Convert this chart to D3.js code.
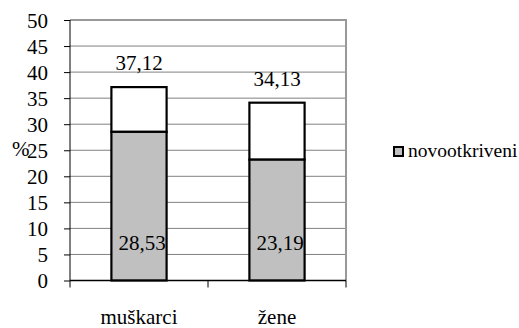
<!DOCTYPE html>
<html><head><meta charset="utf-8">
<script src="https://cdn.jsdelivr.net/npm/d3@7"></script>
</head><body style="margin:0;background:#fff"><svg id="c" width="519" height="328" style="display:block"></svg>
<script>
const categories = ["muškarci", "žene"];
const novootkriveni = [28.53, 23.19];
const ukupno = [37.12, 34.13];
const yTicks = [0, 5, 10, 15, 20, 25, 30, 35, 40, 45, 50];
const legendLabel = "novootkriveni";
const yLabel = "%";

const svg = d3.select("#c");
const L = 70, R = 346, T = 20, B = 280.5;
const x = d3.scaleBand().domain(categories).range([L, R]).paddingInner(0.6).paddingOuter(0.3);
const xb = d3.scaleBand().domain(categories).range([L, R]);
const y = d3.scaleLinear().domain([0, 50]).range([B, T]);
const fs = "21px";
const FF = "Liberation Serif";

// gridlines
svg.append("g").selectAll("line").data(yTicks.filter(d => d > 0 && d < 50)).join("line")
  .attr("x1", L).attr("x2", R).attr("y1", d => y(d)).attr("y2", d => y(d))
  .attr("stroke", "#808080").attr("stroke-width", 1);
// top & right border
svg.append("path").attr("d", `M${L},${y(50)}H${R}V${B}`).attr("fill", "none")
  .attr("stroke", "#999").attr("stroke-width", 2);

// bars: white total, gray part
const g = svg.append("g");
g.selectAll("rect.tot").data(categories).join("rect").attr("class", "tot")
  .attr("x", d => x(d)).attr("width", x.bandwidth())
  .attr("y", (d, i) => y(ukupno[i])).attr("height", (d, i) => y(novootkriveni[i]) - y(ukupno[i]))
  .attr("fill", "#fff").attr("stroke", "#000").attr("stroke-width", 2.2);
g.selectAll("rect.nov").data(categories).join("rect").attr("class", "nov")
  .attr("x", d => x(d)).attr("width", x.bandwidth())
  .attr("y", (d, i) => y(novootkriveni[i])).attr("height", (d, i) => y(0) - y(novootkriveni[i]))
  .attr("fill", "#c0c0c0").attr("stroke", "#000").attr("stroke-width", 2.2);

// axes
const yAxis = d3.axisLeft(y).tickValues(yTicks).tickSize(6).tickPadding(16).tickFormat(d3.format("d"));
const ya = svg.append("g").attr("transform", `translate(${L},0)`).call(yAxis);
ya.select(".domain").attr("stroke", "#000").attr("stroke-width", 1).attr("d", `M0,${y(50)}V${B}`);
ya.selectAll(".tick line").attr("stroke", "#000");
ya.selectAll("text").style("font-family", FF).style("font-size", fs).attr("fill", "#000").attr("dy", "0.35em");

const xAxis = d3.axisBottom(xb).tickSize(0).tickPadding(28.5);
const xa = svg.append("g").attr("transform", `translate(0,${B})`).call(xAxis);
xa.select(".domain").attr("stroke", "#000").attr("stroke-width", 1.5).attr("d", `M${L},0H${R}`);
xa.selectAll("text").style("font-family", FF).style("font-size", fs).attr("fill", "#000");
// category boundary ticks
xa.selectAll("line.sep").data([L, R, ...categories.slice(1).map(c => xb(c))]).join("line").attr("class", "sep")
  .attr("x1", d => d).attr("x2", d => d).attr("y1", 0).attr("y2", 7).attr("stroke", "#000");

// labels
svg.append("g").selectAll("text").data(categories).join("text")
  .attr("x", d => x(d) + x.bandwidth() / 2).attr("y", (d, i) => y(ukupno[i]) - 17)
  .attr("text-anchor", "middle").style("font-family", FF).style("font-size", fs)
  .text((d, i) => d3.format(".2f")(ukupno[i]).replace(".", ","));
svg.append("g").selectAll("text").data(categories).join("text")
  .attr("x", d => x(d) + x.bandwidth() / 2 + 3).attr("y", y(0) - 30.5)
  .attr("text-anchor", "middle").style("font-family", FF).style("font-size", fs)
  .text((d, i) => d3.format(".2f")(novootkriveni[i]).replace(".", ","));

// y label
svg.append("text").attr("x", 12).attr("y", y(25) + 6).style("font-family", FF).style("font-size", fs).text(yLabel);

// legend
const lg = svg.append("g").attr("transform", "translate(393,146)");
lg.append("rect").attr("x", 1).attr("y", 1).attr("width", 9).attr("height", 9)
  .attr("fill", "#c0c0c0").attr("stroke", "#000").attr("stroke-width", 2);
lg.append("text").attr("x", 15).attr("y", 11).style("font-family", FF).style("font-size", "19.5px").text(legendLabel);
</script></body></html>
